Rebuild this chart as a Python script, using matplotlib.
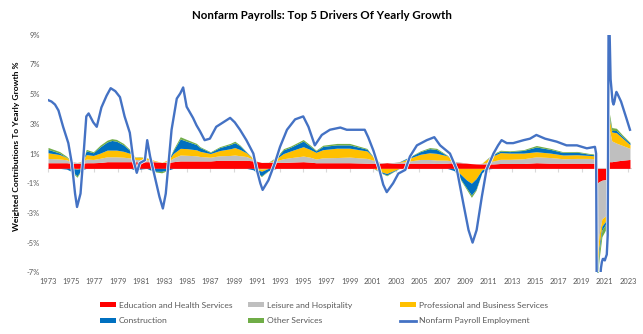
import numpy as np
import matplotlib.pyplot as plt
import matplotlib.patheffects as pe
from matplotlib.patches import Patch
from matplotlib.lines import Line2D

plt.rcParams['font.family'] = ['Lato', 'DejaVu Sans']

# Nonfarm payroll employment, year-over-year % change (decimal year, %)
line_years = [
    1973.0, 1973.3, 1973.6, 1973.9, 1974.3, 1974.75, 1975.05, 1975.33, 1975.5, 1975.8,
    1976.05, 1976.3, 1976.5, 1976.9, 1977.2, 1977.6, 1978.05, 1978.4, 1978.8, 1979.2,
    1979.6, 1980.05, 1980.35, 1980.65, 1980.9, 1981.35, 1981.55, 1981.8, 1982.2, 1982.6,
    1982.9, 1983.15, 1983.65, 1984.1, 1984.4, 1984.65, 1984.95, 1985.5, 1985.8, 1986.1,
    1986.5, 1986.95, 1987.5, 1988.1, 1988.7, 1989.1, 1989.55, 1990.1, 1990.7, 1991.0,
    1991.3, 1991.5, 1992.0, 1992.55, 1993.0, 1993.6, 1994.3, 1995.0, 1995.45, 1996.0,
    1996.6, 1997.3, 1998.2, 1998.75, 1999.3, 2000.3, 2000.6, 2001.05, 2001.5, 2001.9,
    2002.2, 2002.75, 2003.2, 2003.8, 2004.2, 2004.8, 2005.65, 2006.3, 2006.8, 2007.65,
    2008.25, 2008.8, 2009.25, 2009.6, 2009.95, 2010.4, 2010.8, 2011.4, 2011.8, 2012.1,
    2012.55, 2013.1, 2014.0, 2014.55, 2015.1, 2015.85, 2016.85, 2017.7, 2018.6, 2019.45,
    2020.15, 2020.25, 2020.33, 2020.42, 2020.5, 2020.58, 2020.67, 2020.75, 2020.83, 2020.92,
    2021.0, 2021.08, 2021.17, 2021.25, 2021.33, 2021.42, 2021.5, 2021.58, 2021.67, 2021.75,
    2021.83, 2021.92, 2022.0, 2022.1, 2022.4, 2022.85, 2023.17,
]
nonfarm_pct = [
    4.6, 4.5, 4.3, 3.9, 2.8, 1.7, 0.35, -1.7, -2.6, -1.7,
    0.8, 3.5, 3.7, 3.1, 2.8, 4.1, 4.9, 5.4, 5.2, 4.8,
    3.5, 2.4, 0.6, -0.3, 0.35, 0.55, 1.9, 0.8, -0.55, -1.9,
    -2.7, -1.7, 2.6, 4.7, 5.05, 5.45, 4.15, 3.4, 2.9, 2.5,
    1.9, 2.0, 2.8, 3.1, 3.4, 3.1, 2.6, 1.9, 1.0, -0.1,
    -1.0, -1.45, -0.8, 0.35, 1.45, 2.6, 3.3, 3.5, 2.8, 1.55,
    2.25, 2.6, 2.75, 2.6, 2.6, 2.6, 2.1, 1.2, 0.1, -1.1,
    -1.6, -1.0, -0.35, -0.1, 0.8, 1.55, 1.9, 2.1, 1.55, 1.0,
    -0.1, -2.35, -4.15, -5.0, -4.15, -1.9, -0.1, 1.0, 1.55, 1.9,
    1.7, 1.7, 1.9, 2.0, 2.25, 2.0, 1.8, 1.55, 1.55, 1.35,
    1.45, 1.0, -13.0, -11.3, -8.8, -7.6, -6.7, -6.3, -6.1, -6.1,
    -6.2, -6.0, -5.8, -4.5, 10.7, 8.9, 6.0, 5.3, 4.5, 4.3,
    4.5, 4.9, 5.15, 5.0, 4.5, 3.4, 2.6,
]

# Weighted contributions of the five sectors (decimal year, percentage points)
stack_years = [
    1973.0, 1974.0, 1974.6, 1975.0, 1975.5, 1975.9, 1976.3, 1976.9, 1977.5, 1978.1,
    1978.5, 1978.9, 1979.5, 1980.1, 1980.5, 1980.9, 1981.5, 1982.1, 1982.8, 1983.4,
    1983.8, 1984.4, 1984.95, 1985.8, 1986.1, 1987.0, 1987.8, 1988.7, 1989.1, 1989.55,
    1990.1, 1990.7, 1991.1, 1991.4, 1992.0, 1992.7, 1993.3, 1993.9, 1995.0, 1995.6,
    1996.1, 1996.7, 1997.9, 1999.0, 2000.5, 2001.05, 2001.6, 2002.2, 2002.8, 2003.3,
    2004.2, 2005.1, 2005.9, 2006.5, 2007.4, 2008.0, 2008.5, 2009.1, 2009.5, 2009.9,
    2010.4, 2010.8, 2011.4, 2012.0, 2012.8, 2014.0, 2015.1, 2016.3, 2017.4, 2018.6,
    2019.7, 2020.15, 2020.25, 2020.33, 2020.5, 2020.75, 2021.17, 2021.25, 2021.33, 2021.6,
    2022.0, 2022.5, 2023.17,
]
edu_health = [
    0.38, 0.38, 0.38, 0.35, 0.35, 0.35, 0.38, 0.38, 0.40, 0.45,
    0.45, 0.45, 0.45, 0.45, 0.45, 0.43, 0.45, 0.45, 0.40, 0.40,
    0.45, 0.50, 0.50, 0.50, 0.50, 0.50, 0.55, 0.55, 0.55, 0.55,
    0.55, 0.50, 0.45, 0.40, 0.40, 0.40, 0.40, 0.42, 0.45, 0.42,
    0.38, 0.38, 0.38, 0.38, 0.35, 0.35, 0.35, 0.38, 0.35, 0.35,
    0.35, 0.35, 0.35, 0.33, 0.35, 0.38, 0.38, 0.35, 0.32, 0.30,
    0.30, 0.30, 0.30, 0.33, 0.33, 0.33, 0.38, 0.35, 0.35, 0.35,
    0.35, 0.34, 0.30, -1.00, -0.90, -0.80, -0.75, -0.60, 0.45, 0.45,
    0.50, 0.55, 0.60,
]
leisure = [
    0.29, 0.25, 0.20, 0.10, 0.05, 0.08, 0.25, 0.22, 0.28, 0.33,
    0.33, 0.33, 0.30, 0.25, 0.15, 0.17, 0.15, 0.05, 0.00, 0.10,
    0.25, 0.40, 0.38, 0.35, 0.30, 0.25, 0.30, 0.32, 0.35, 0.30,
    0.25, 0.10, 0.00, -0.05, 0.02, 0.12, 0.25, 0.30, 0.38, 0.33,
    0.25, 0.33, 0.35, 0.38, 0.32, 0.20, 0.05, 0.00, 0.05, 0.06,
    0.15, 0.25, 0.25, 0.23, 0.20, 0.10, 0.05, 0.00, 0.00, 0.00,
    0.05, 0.10, 0.20, 0.28, 0.28, 0.32, 0.40, 0.38, 0.30, 0.32,
    0.32, 0.30, 0.00, -5.00, -3.60, -2.60, -2.40, -1.80, 2.40, 1.40,
    1.20, 1.00, 0.75,
]
prof_business = [
    0.38, 0.30, 0.15, 0.00, -0.05, 0.05, 0.30, 0.27, 0.35, 0.45,
    0.45, 0.45, 0.40, 0.30, 0.15, 0.15, 0.10, 0.05, 0.00, 0.10,
    0.30, 0.45, 0.45, 0.40, 0.35, 0.25, 0.35, 0.45, 0.50, 0.42,
    0.25, 0.05, -0.10, -0.15, 0.00, 0.15, 0.35, 0.45, 0.63, 0.52,
    0.45, 0.55, 0.63, 0.60, 0.50, 0.20, -0.20, -0.35, -0.15, 0.02,
    0.20, 0.35, 0.45, 0.45, 0.30, 0.00, -0.35, -0.80, -1.00, -0.70,
    -0.10, 0.20, 0.35, 0.45, 0.42, 0.38, 0.34, 0.30, 0.25, 0.25,
    0.20, 0.20, 0.15, -1.00, -0.80, -0.50, -0.30, -0.20, 0.70, 0.60,
    0.70, 0.50, 0.25,
]
construction = [
    0.23, 0.10, -0.05, -0.20, -0.45, -0.10, 0.25, 0.18, 0.42, 0.55,
    0.65, 0.60, 0.43, 0.18, -0.10, -0.05, 0.00, -0.20, -0.20, -0.10,
    0.20, 0.63, 0.50, 0.35, 0.25, 0.08, 0.20, 0.28, 0.33, 0.25,
    0.05, -0.10, -0.25, -0.30, -0.15, 0.05, 0.25, 0.25, 0.38, 0.22,
    0.10, 0.22, 0.22, 0.22, 0.12, 0.00, -0.05, -0.10, -0.05, 0.02,
    0.08, 0.18, 0.28, 0.26, 0.02, -0.15, -0.30, -0.55, -0.80, -0.70,
    -0.20, -0.05, 0.10, 0.10, 0.10, 0.18, 0.32, 0.25, 0.17, 0.17,
    0.08, 0.07, 0.05, -0.50, -0.35, -0.25, -0.20, -0.15, 0.15, 0.10,
    0.15, 0.12, 0.10,
]
other_services = [
    0.13, 0.10, 0.08, 0.02, -0.10, 0.00, 0.10, 0.07, 0.12, 0.12,
    0.12, 0.12, 0.10, 0.05, 0.02, 0.03, 0.02, -0.02, -0.10, 0.00,
    0.08, 0.15, 0.12, 0.08, 0.06, 0.04, 0.06, 0.08, 0.10, 0.05,
    0.02, 0.00, -0.05, -0.05, -0.02, 0.05, 0.08, 0.08, 0.10, 0.08,
    0.05, 0.08, 0.10, 0.10, 0.05, 0.02, -0.02, -0.05, -0.02, 0.00,
    0.02, 0.05, 0.07, 0.08, 0.03, 0.00, -0.05, -0.10, -0.15, -0.08,
    0.00, 0.02, 0.05, 0.06, 0.05, 0.05, 0.10, 0.07, 0.05, 0.05,
    0.05, 0.05, 0.03, -0.60, -0.50, -0.45, -0.35, -0.25, 0.30, 0.20,
    0.15, 0.10, 0.05,
]

series_names = [
    "Education and Health Services",
    "Leisure and Hospitality",
    "Professional and Business Services",
    "Construction",
    "Other Services",
]
series_colors = ["#FF0000", "#BFBFBF", "#FFC000", "#0070C0", "#70AD47"]
line_color = "#4472C4"
text_gray = "#595959"

fig = plt.figure(figsize=(6.43, 3.34), dpi=100)
ax = fig.add_axes([0.0747, 0.1847, 0.9083, 0.7113])

# stacked areas: positives build upward from zero, negatives build downward
x = np.array(stack_years)
pos_base = np.zeros(len(x))
neg_base = np.zeros(len(x))
for vals, color in zip([edu_health, leisure, prof_business, construction, other_services],
                       series_colors):
    v = np.array(vals)
    p = np.clip(v, 0, None)
    n = np.clip(v, None, 0)
    ax.fill_between(x, pos_base, pos_base + p, color=color, lw=0, zorder=2)
    ax.fill_between(x, neg_base, neg_base + n, color=color, lw=0, zorder=2)
    pos_base = pos_base + p
    neg_base = neg_base + n

ax.plot(line_years, nonfarm_pct, color=line_color, lw=1.7, zorder=4,
        path_effects=[pe.Stroke(linewidth=2.7, foreground="white"), pe.Normal()])

ax.axhline(0, color="#D9D9D9", lw=0.8, zorder=1)

ax.set_xlim(1973.0, 2023.35)
ax.set_ylim(-7, 9)
for s in ax.spines.values():
    s.set_visible(False)

year_ticks = list(range(1973, 2024, 2))
ax.set_xticks(year_ticks)
ax.set_xticklabels([str(y) for y in year_ticks])
ax.tick_params(axis="x", length=0, pad=4, labelsize=5.4, labelcolor=text_gray)

pct_ticks = list(range(-7, 10, 2))
ax.set_yticks(pct_ticks)
ax.set_yticklabels([f"{t}%" for t in pct_ticks])
ax.tick_params(axis="y", length=0, pad=6, labelsize=5.4, labelcolor=text_gray)

# small tick marks hanging from the zero line
zero_axis = ax.secondary_xaxis(7 / 16)
zero_axis.set_xticks(year_ticks)
zero_axis.tick_params(length=3, color="#D9D9D9", labelbottom=False)
zero_axis.spines["bottom"].set_visible(False)

fig.text(0.5, 0.953, "Nonfarm Payrolls: Top 5 Drivers Of Yearly Growth",
         ha="center", va="center", fontsize=8.3, fontweight="bold")
fig.text(0.026, 0.563, "Weighted Contributions To Yearly Growth %", rotation=90,
         ha="center", va="center", fontsize=6.1, fontweight="bold")

patches = [Patch(facecolor=c, edgecolor="none") for c in series_colors]
nonfarm_handle = Line2D([], [], color=line_color, lw=2)
columns = [
    ([patches[0], patches[3]], [series_names[0], series_names[3]], 0.1555),
    ([patches[1], patches[4]], [series_names[1], series_names[4]], 0.386),
    ([patches[2], nonfarm_handle], [series_names[2], "Nonfarm Payroll Employment"], 0.622),
]
for handles, labels, xpos in columns:
    fig.legend(handles, labels, loc="center left", bbox_to_anchor=(xpos, 0.063),
               frameon=False, fontsize=6.1, labelcolor=text_gray, borderpad=0,
               borderaxespad=0, handlelength=1.9, handleheight=0.6,
               handletextpad=0.3, labelspacing=1.05)

fig.savefig("out.png", dpi=100)
